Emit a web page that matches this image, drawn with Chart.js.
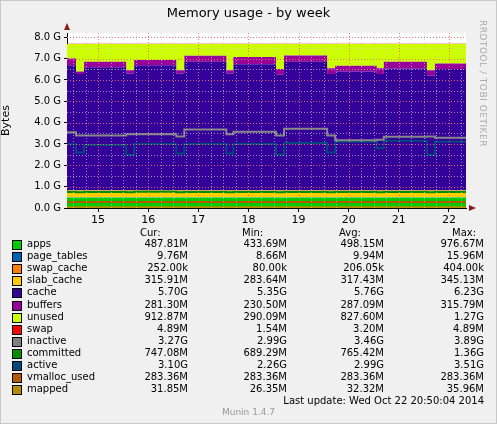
<!DOCTYPE html>
<html><head><meta charset="utf-8">
<script src="https://cdn.jsdelivr.net/npm/chart.js@4"></script>
<style>
body{margin:0;background:#fff;font-family:"DejaVu Sans",sans-serif;}
#wrap{position:absolute;left:0;top:0;width:495px;height:422px;background:#f0f0f0;border:1px solid #c8c8c8;}
#title{position:absolute;left:0;width:497px;top:5px;text-align:center;font-size:13px;color:#000;}
#rrd{position:absolute;left:478px;top:20px;writing-mode:vertical-rl;font-size:9px;color:#aaa;letter-spacing:0.5px;}
#cv{position:absolute;left:0;top:0;}
.r{position:absolute;font-size:10px;color:#000;white-space:pre;}
.sq{position:absolute;width:8px;height:8px;border:1px solid #000;}
</style></head><body>
<div id="wrap"></div>
<canvas id="cv" width="497" height="230"></canvas>
<div id="title">Memory usage - by week</div>
<div id="rrd">RRDTOOL / TOBI OETIKER</div>
<div id="legend"></div>
<script>
const times=[14.38,14.56,14.72,15.56,15.72,16.56,16.72,17.56,17.70,18.55,18.71,19.57,19.73,20.56,20.70,21.56,21.72,22.34];
const apps=[0.49,0.49,0.49,0.49,0.49,0.49,0.49,0.49,0.49,0.49,0.49,0.49,0.49,0.49,0.49,0.49,0.49,0.49];
const page_tables=[0.01,0.01,0.01,0.01,0.01,0.01,0.01,0.01,0.01,0.01,0.01,0.01,0.01,0.01,0.01,0.01,0.01,0.01];
const swap_cache=[0.0002,0.0002,0.0002,0.0002,0.0002,0.0002,0.0002,0.0002,0.0002,0.0002,0.0002,0.0002,0.0002,0.0002,0.0002,0.0002,0.0002,0.0002];
const slab_cache=[0.32,0.32,0.32,0.32,0.32,0.32,0.32,0.32,0.32,0.32,0.32,0.32,0.32,0.32,0.32,0.32,0.32,0.32];
const cache=[5.87,5.87,5.46,5.77,5.48,5.87,5.48,6.03,5.48,5.92,5.42,6.03,5.46,5.57,5.46,5.72,5.38,5.69];
const buffers=[0.31,0.31,0.12,0.26,0.15,0.25,0.15,0.28,0.15,0.34,0.27,0.29,0.27,0.28,0.27,0.31,0.26,0.26];
const unused=[0.69,0.69,1.29,0.84,1.24,0.75,1.24,0.56,1.24,0.61,1.18,0.55,1.14,1.02,1.14,0.84,1.23,0.92];
const swap=[0.005,0.005,0.005,0.005,0.005,0.005,0.005,0.005,0.005,0.005,0.005,0.005,0.005,0.005,0.005,0.005,0.005,0.005];
const inactive=[3.55,3.55,3.4,3.4,3.45,3.45,3.35,3.68,3.45,3.57,3.4,3.71,3.4,3.17,3.2,3.34,3.35,3.29];
const committed=[0.75,0.75,0.74,0.75,0.74,0.76,0.74,0.75,0.74,0.75,0.74,0.75,0.74,0.75,0.74,0.75,0.74,0.75];
const active=[2.99,2.99,2.6,2.95,2.5,3.0,2.55,3.0,2.55,3.0,2.5,3.05,2.6,3.1,2.8,3.15,2.5,3.1];
const vmalloc_used=[0.283,0.283,0.283,0.283,0.283,0.283,0.283,0.283,0.283,0.283,0.283,0.283,0.283,0.283,0.283,0.283,0.283,0.283];
const mapped=[0.032,0.032,0.032,0.032,0.032,0.032,0.032,0.032,0.032,0.032,0.032,0.032,0.032,0.032,0.032,0.032,0.032,0.032];
const dayTicks=[15,16,17,18,19,20,21,22];
const yTicks=[0,1,2,3,4,5,6,7,8];

const legendRows=[
["apps","#00CC00","487.81M","433.69M","498.15M","976.67M"],
["page_tables","#0066B3","9.76M","8.66M","9.94M","15.96M"],
["swap_cache","#FF8000","252.00k","80.00k","206.05k","404.00k"],
["slab_cache","#FFCC00","315.91M","283.64M","317.43M","345.13M"],
["cache","#330099","5.70G","5.35G","5.76G","6.23G"],
["buffers","#990099","281.30M","230.50M","287.09M","315.79M"],
["unused","#CCFF00","912.87M","290.09M","827.60M","1.27G"],
["swap","#FF0000","4.89M","1.54M","3.20M","4.89M"],
["inactive","#808080","3.27G","2.99G","3.46G","3.89G"],
["committed","#008F00","747.08M","689.29M","765.42M","1.36G"],
["active","#00487D","3.10G","2.26G","2.99G","3.51G"],
["vmalloc_used","#B35A00","283.36M","283.36M","283.36M","283.36M"],
["mapped","#B38F00","31.85M","26.35M","32.32M","35.96M"]];

function pts(a){return a.map((v,i)=>({x:times[i],y:v}));}
const stackDefs=[["apps",apps,"#00CC00"],["page_tables",page_tables,"#0066B3"],["swap_cache",swap_cache,"#FF8000"],["slab_cache",slab_cache,"#FFCC00"],["cache",cache,"#330099"],["buffers",buffers,"#990099"],["unused",unused,"#CCFF00"],["swap",swap,"#FF0000"]];
const lineDefs=[["inactive",inactive,"#888888"],["committed",committed,"#008F00"],["active",active,"#00487D"],["vmalloc_used",vmalloc_used,"#B35A00"],["mapped",mapped,"#B38F00"]];
const ds=[];
stackDefs.forEach((d,i)=>ds.push({label:d[0],data:pts(d[1]),stack:"mem",backgroundColor:d[2],borderColor:d[2],borderWidth:0,fill:i==0?"origin":"-1",stepped:"after",pointRadius:0,order:2}));
lineDefs.forEach(d=>ds.push({label:d[0],data:pts(d[1]),stack:"l_"+d[0],borderColor:d[2],backgroundColor:d[2],borderWidth:2,fill:false,stepped:"after",pointRadius:0,order:1}));

const bg={id:"bg",beforeDraw(c){const a=c.chartArea,x=c.ctx;x.save();x.fillStyle="#fff";x.fillRect(a.left,a.top,a.right-a.left,a.bottom-a.top);x.restore();},
afterDatasetsDraw(c){const a=c.chartArea,x=c.ctx,sx=c.scales.x,sy=c.scales.y;x.save();x.lineWidth=1;x.setLineDash([1,2]);
x.strokeStyle="rgba(200,200,200,0.7)";
for(let d=14.5;d<22.34;d+=0.25){if(Math.abs(d-Math.round(d))<0.01)continue;const p=Math.round(sx.getPixelForValue(d))+0.5;x.beginPath();x.moveTo(p,a.top);x.lineTo(p,a.bottom);x.stroke();}
for(let v=0.5;v<8.2;v+=1){const p=Math.round(sy.getPixelForValue(v))+0.5;x.beginPath();x.moveTo(a.left,p);x.lineTo(a.right,p);x.stroke();}
x.strokeStyle="rgba(235,110,110,0.9)";
dayTicks.forEach(d=>{const p=Math.round(sx.getPixelForValue(d))+0.5;x.beginPath();x.moveTo(p,a.top);x.lineTo(p,a.bottom);x.stroke();});
yTicks.forEach(v=>{if(v==0)return;const p=Math.round(sy.getPixelForValue(v))+0.5;x.beginPath();x.moveTo(a.left,p);x.lineTo(a.right,p);x.stroke();});
x.restore();},
afterDraw(c){const a=c.chartArea,x=c.ctx;x.save();x.fillStyle="#8B1A1A";x.beginPath();x.moveTo(a.left-3,a.top-3);x.lineTo(a.left+3,a.top-3);x.lineTo(a.left,a.top-10);x.fill();
x.beginPath();x.moveTo(a.right+3,a.bottom-3);x.lineTo(a.right+3,a.bottom+3);x.lineTo(a.right+10,a.bottom);x.fill();x.restore();}};

new Chart(document.getElementById("cv"),{type:"line",data:{datasets:ds},plugins:[bg],
options:{responsive:false,animation:false,layout:{padding:{top:33,right:31,left:0,bottom:0}},
plugins:{legend:{display:false},tooltip:{enabled:false},title:{display:false}},
scales:{
x:{type:"linear",min:14.38,max:22.34,afterFit(s){s.height=22;},
afterBuildTicks(s){s.ticks=dayTicks.map(v=>({value:v}));},
ticks:{color:"#000",font:{family:"DejaVu Sans",size:11},maxRotation:0,autoSkip:false,callback:v=>String(v),padding:2},
grid:{display:true,drawOnChartArea:false,tickLength:4,tickColor:"#000"},border:{color:"#000"}},
y:{stacked:true,min:0,max:8.2,afterFit(s){s.width=67;},
afterBuildTicks(s){s.ticks=yTicks.map(v=>({value:v}));},
ticks:{color:"#000",font:{family:"DejaVu Sans",size:10},callback:v=>v.toFixed(1)+" G",padding:3},
title:{display:true,text:"Bytes",color:"#000",font:{family:"DejaVu Sans",size:11},padding:0},
grid:{display:true,drawOnChartArea:false,tickLength:3,tickColor:"#000"},border:{color:"#000"}}}}});

const L=document.getElementById("legend");let h="";
h+=`<div class="r" style="left:140px;top:227px">Cur:</div><div class="r" style="left:242px;top:227px">Min:</div><div class="r" style="left:339px;top:227px">Avg:</div><div class="r" style="left:452px;top:227px">Max:</div>`;
legendRows.forEach((r,i)=>{const y=238+i*12.1;
h+=`<div class="sq" style="left:12px;top:${y+2}px;background:${r[1]}"></div>`;
h+=`<div class="r" style="left:27px;top:${y}px">${r[0]}</div>`;
h+=`<div class="r" style="right:${497-188}px;top:${y}px">${r[2]}</div>`;
h+=`<div class="r" style="right:${497-287}px;top:${y}px">${r[3]}</div>`;
h+=`<div class="r" style="right:${497-384}px;top:${y}px">${r[4]}</div>`;
h+=`<div class="r" style="right:${497-484}px;top:${y}px">${r[5]}</div>`;});
h+=`<div class="r" style="right:13px;top:395px">Last update: Wed Oct 22 20:50:04 2014</div>`;
h+=`<div class="r" style="left:0;width:497px;text-align:center;top:407px;color:#999;font-size:9px">Munin 1.4.7</div>`;
L.innerHTML=h;
</script></body></html>
